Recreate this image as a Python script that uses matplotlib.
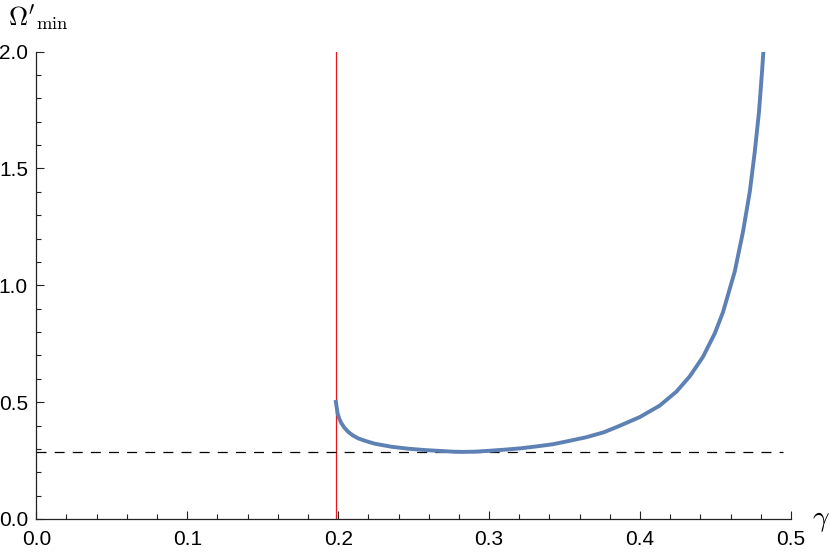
import matplotlib
matplotlib.use("Agg")
import matplotlib.pyplot as plt
from matplotlib.ticker import MultipleLocator, FormatStrFormatter

plt.rcParams['font.family'] = ['Liberation Sans', 'DejaVu Sans']
plt.rcParams['mathtext.fontset'] = 'cm'

# data
gamma = [0.1983, 0.1990, 0.1996, 0.2008, 0.2022, 0.2042, 0.2066, 0.2096, 0.2132,
         0.2185, 0.2243, 0.2354, 0.2460, 0.2574, 0.2680, 0.2762, 0.2826, 0.2900,
         0.2983, 0.3090, 0.3203, 0.3320, 0.3424, 0.3530, 0.3645, 0.3760, 0.3866,
         0.3998, 0.4130, 0.4241, 0.4329, 0.4417, 0.4495, 0.4549, 0.4627, 0.4682,
         0.4727, 0.4760, 0.4788, 0.4808, 0.4817]
omega = [0.509, 0.478, 0.452, 0.428, 0.409, 0.390, 0.373, 0.358, 0.345,
         0.333, 0.322, 0.309, 0.301, 0.295, 0.291, 0.288, 0.287, 0.288,
         0.291, 0.296, 0.302, 0.311, 0.320, 0.334, 0.350, 0.371, 0.399,
         0.436, 0.485, 0.545, 0.610, 0.694, 0.794, 0.884, 1.058, 1.229,
         1.400, 1.571, 1.742, 1.913, 2.000]
gamma_crit = 0.1985
omega_min = 0.2866
dash_end = 0.495

W, H = 830, 554
fig = plt.figure(figsize=(W/100, H/100), dpi=100)
ax = fig.add_axes([36.3/W, 1-519/H, (791-36.3)/W, (519-51.5)/H])

ax.plot(gamma, omega, color='#5E81B5', lw=2.8, solid_capstyle='butt',
        solid_joinstyle='round', zorder=3)
ax.plot([gamma_crit, gamma_crit], [0, 2.0], color='#E8161A', lw=0.9, zorder=2)
ax.plot([0, dash_end], [omega_min, omega_min], color='black', lw=0.9,
        linestyle=(0, (8, 6.5)), zorder=2)

ax.set_xlim(0, 0.5)
ax.set_ylim(0, 2.0)
for s in ['top', 'right']:
    ax.spines[s].set_visible(False)
for s in ['left', 'bottom']:
    ax.spines[s].set_linewidth(0.9)
    ax.spines[s].set_color('#222222')

ax.xaxis.set_major_locator(MultipleLocator(0.1))
ax.xaxis.set_minor_locator(MultipleLocator(0.02))
ax.yaxis.set_major_locator(MultipleLocator(0.5))
ax.yaxis.set_minor_locator(MultipleLocator(0.1))
ax.xaxis.set_major_formatter(FormatStrFormatter('%.1f'))
ax.yaxis.set_major_formatter(FormatStrFormatter('%.1f'))
ax.tick_params(which='both', direction='in', color='#222222', width=0.8,
               labelsize=15)
ax.tick_params(which='major', length=6)
ax.tick_params(which='minor', length=3.6)
ax.tick_params(axis='x', which='major', pad=8)
ax.tick_params(axis='y', which='major', pad=6)

fig.text(812/W, 1-520/H, r'$\gamma$', fontsize=21, ha='left', va='center')
fig.text(8/W, 1-3/H, r"$\Omega'_{\mathrm{min}}$", fontsize=19, ha='left', va='top')

fig.savefig('out.png', dpi=100)
